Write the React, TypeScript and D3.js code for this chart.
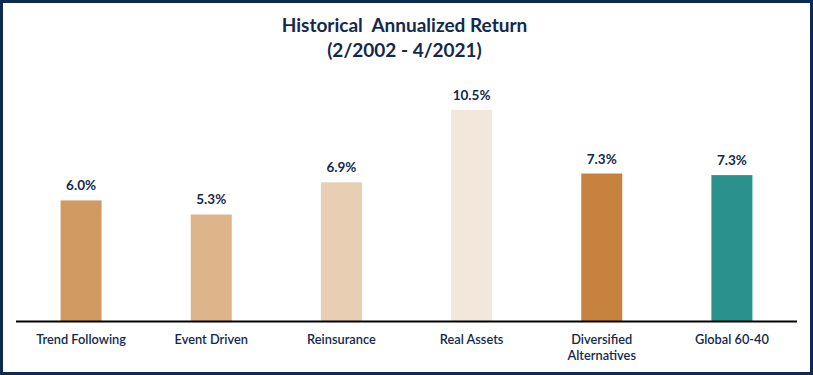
import React from "react";
import * as d3 from "d3";

const categories = ["Trend Following", "Event Driven", "Reinsurance", "Real Assets", "Diversified Alternatives", "Global 60-40"];
const returns = [6.0, 5.3, 6.9, 10.5, 7.34, 7.26];
const valueLabels = ["6.0%", "5.3%", "6.9%", "10.5%", "7.3%", "7.3%"];
const barColors = ["#d09a62", "#deb48a", "#e8ceb2", "#f3e6da", "#c8823f", "#2a918c"];
const titleLines = ["Historical  Annualized Return", "(2/2002 - 4/2021)"];

const W = 813;
const H = 375;
const navy = "#13294b";
const font = "Lato, 'Open Sans', sans-serif";

export default function App() {
  const x = d3.scaleBand<string>().domain(categories).range([16, 797]).paddingInner(0.685).paddingOuter(0.3425);
  const y = d3.scaleLinear().domain([0, 10.5]).range([321, 110]);
  const bw = x.bandwidth();

  return (
    <svg width={W} height={H} style={{ position: "fixed", left: 0, top: 0, background: "#fff" }} fontFamily={font}>
      <rect x={0} y={0} width={W} height={H} fill="#fff" />
      <rect x={1.5} y={1.5} width={W - 3} height={H - 3} fill="none" stroke="#0c2a52" strokeWidth={3} />
      {titleLines.map((t, i) => (
        <text key={i} x={W / 2 - 2} y={32 + i * 25} textAnchor="middle" fontSize={19} fontWeight={700} fill={navy} style={{ whiteSpace: "pre" }}>
          {t}
        </text>
      ))}
      {categories.map((c, i) => {
        const bx = x(c)!;
        const by = y(returns[i]);
        return (
          <g key={c}>
            <rect x={bx} y={by} width={bw} height={y(0) - by} fill={barColors[i]} />
            <text x={bx + bw / 2} y={by - 10} textAnchor="middle" fontSize={13.5} fontWeight={700} fill={navy}>
              {valueLabels[i]}
            </text>
          </g>
        );
      })}
      <line x1={16} x2={797} y1={321.5} y2={321.5} stroke="#000" strokeWidth={2} />
      {categories.map((c) => {
        const cx = x(c)! + bw / 2;
        const words = c === "Diversified Alternatives" ? ["Diversified", "Alternatives"] : [c];
        return (
          <text key={c} x={cx} y={344} textAnchor="middle" fontSize={12.8} fontWeight={600} fill={navy}>
            {words.map((w, j) => (
              <tspan key={j} x={cx} dy={j === 0 ? 0 : 16}>{w}</tspan>
            ))}
          </text>
        );
      })}
    </svg>
  );
}
